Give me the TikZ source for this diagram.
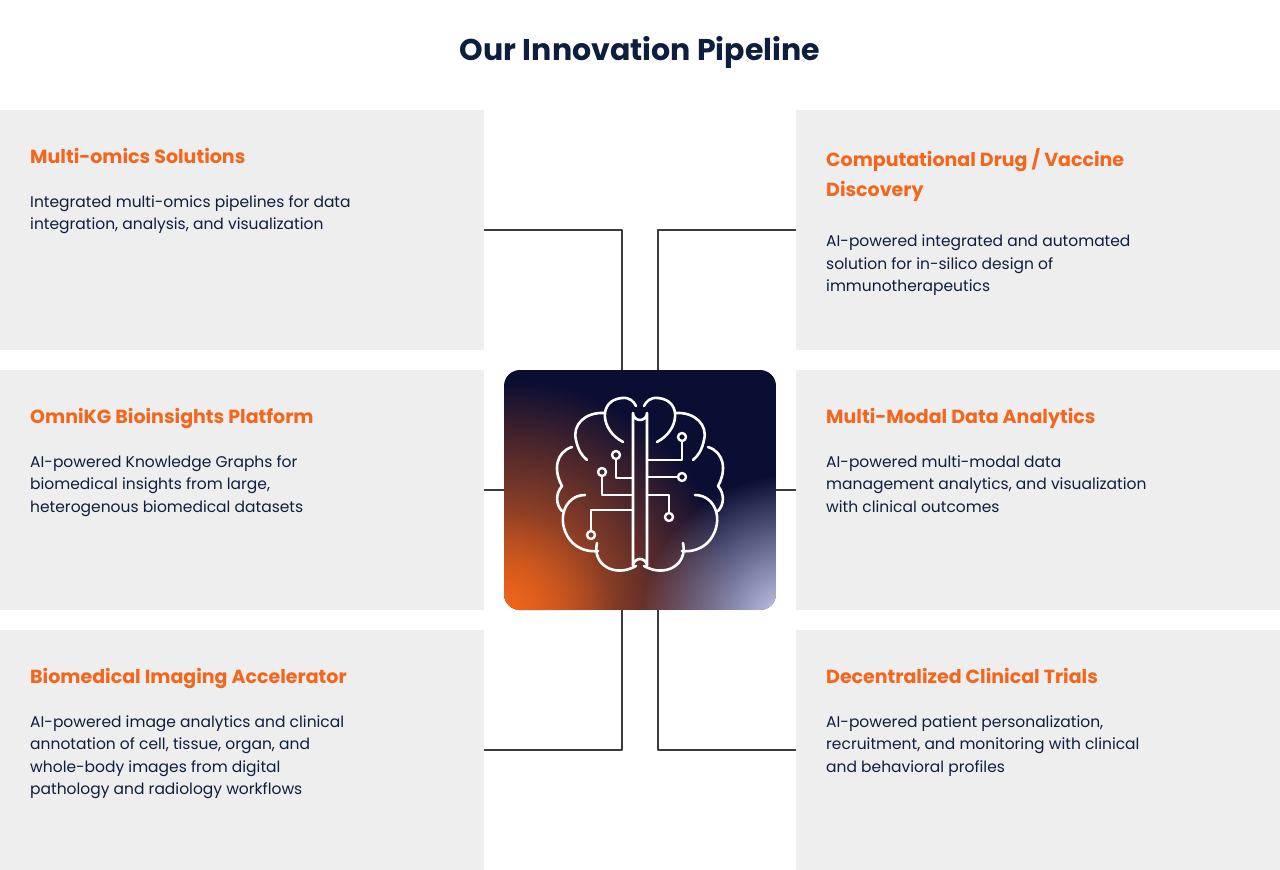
\documentclass[tikz,border=0pt]{standalone}
\usepackage{fontspec}
\setmainfont{Poppins}
\usetikzlibrary{fadings}
\definecolor{navy}{HTML}{0E1E3F}
\definecolor{accent}{HTML}{F4661B}
\definecolor{panel}{HTML}{EEEEEE}
\definecolor{deep}{HTML}{0B0E33}
\definecolor{wire}{HTML}{3A3A3A}
\tikzfading[name=glow, inner color=transparent!0, outer color=transparent!100]

\begin{document}
\begin{tikzpicture}[
    x=1pt, y=-1pt, line join=round,
    panelbox/.style={fill=panel, draw=none},
    heading/.style={anchor=north west, inner sep=0pt, text=accent, align=left,
        font=\fontsize{19}{30}\selectfont\bfseries},
    body/.style={anchor=north west, inner sep=0pt, text=navy, align=left,
        font=\fontsize{15.5}{22.5}\selectfont},
    link/.style={draw=wire, line width=1.4pt},
    brainline/.style={draw=white, line width=2.6pt, line cap=round}
]
    \useasboundingbox (0,0) rectangle (1280,870);
    \fill[white] (0,0) rectangle (1280,870);

    % --- title ---
    \node[text=navy, font=\fontsize{30}{36}\selectfont\bfseries] (Title) at (640,52) {Our Innovation Pipeline};

    % --- panels ---
    \fill[panelbox] (0,110) rectangle (484,350);
    \fill[panelbox] (0,370) rectangle (484,610);
    \fill[panelbox] (0,630) rectangle (484,870);
    \fill[panelbox] (796,110) rectangle (1280,350);
    \fill[panelbox] (796,370) rectangle (1280,610);
    \fill[panelbox] (796,630) rectangle (1280,870);

    % --- left texts ---
    \node[heading] (OmicsHead) at (30,148) {Multi-omics Solutions};
    \node[body] (OmicsBody) at (30,195) {Integrated multi-omics pipelines for data\\integration, analysis, and visualization};
    \node[heading] (KGHead) at (30,408) {OmniKG Bioinsights Platform};
    \node[body] (KGBody) at (30,455) {AI-powered Knowledge Graphs for\\biomedical insights from large,\\heterogenous biomedical datasets};
    \node[heading] (ImgHead) at (30,668) {Biomedical Imaging Accelerator};
    \node[body] (ImgBody) at (30,715) {AI-powered image analytics and clinical\\annotation of cell, tissue, organ, and\\whole-body images from digital\\pathology and radiology workflows};

    % --- right texts ---
    \node[heading] (DrugHead) at (826,148) {Computational Drug / Vaccine\\Discovery};
    \node[body] (DrugBody) at (826,235) {AI-powered integrated and automated\\solution for in-silico design of\\immunotherapeutics};
    \node[heading] (ModalHead) at (826,408) {Multi-Modal Data Analytics};
    \node[body] (ModalBody) at (826,455) {AI-powered multi-modal data\\management analytics, and visualization\\with clinical outcomes};
    \node[heading] (TrialHead) at (826,668) {Decentralized Clinical Trials};
    \node[body] (TrialBody) at (826,715) {AI-powered patient personalization,\\recruitment, and monitoring with clinical\\and behavioral profiles};

    % --- connectors ---
    \coordinate (LA) at (484,230); \coordinate (RA) at (796,230);
    \coordinate (LC) at (484,750); \coordinate (RC) at (796,750);
    \draw[link] (LA) -| (622,370);
    \draw[link] (RA) -| (658,370);
    \draw[link] (484,490) -- (504,490);
    \draw[link] (776,490) -- (796,490);
    \draw[link] (LC) -| (622,610);
    \draw[link] (RC) -| (658,610);

    % --- centre tile ---
    \begin{scope}
        \clip[rounded corners=16pt] (504,370) rectangle (776,610);
        \fill[deep] (504,370) rectangle (776,610);
        \fill[accent, path fading=glow] (504,610) circle (230);
        \fill[white!85!blue, path fading=glow] (790,625) circle (150);
        \fill[accent, path fading=glow, opacity=.6] (504,620) circle (110);
    \end{scope}

    % --- brain icon ---
    \foreach \s in {1,-1}{
    \begin{scope}[xshift=640, xscale=\s, xshift=-640]
        \draw[brainline] (623,442) .. controls (600,430) and (598,400) .. (622,398)
            .. controls (630,397) and (634,402) .. (636,406);
        \draw[brainline] (604,413) .. controls (585,412) and (572,425) .. (576,440)
            .. controls (578,450) and (582,456) .. (587,460);
        \draw[brainline] (572,447) .. controls (556,452) and (553,470) .. (562,486)
            .. controls (555,494) and (556,505) .. (562,511);
        \draw[brainline] (585,495) .. controls (565,495) and (555,520) .. (570,540)
            .. controls (578,550) and (590,552) .. (598,551);
        \draw[brainline] (597,543) .. controls (592,565) and (615,578) .. (636,566);
    \end{scope}}
    % central strip
    \draw[brainline] (633,566) -- (633,413) arc[start angle=180, end angle=0, radius=7]
        -- (647,566) arc[start angle=0, end angle=-180, radius=7];
    % circuit traces
    \draw[brainline] (616,459) -- (616,478) -- (633,478);
    \draw[brainline] (602,476) -- (602,495) -- (633,495);
    \draw[brainline] (591,531) -- (591,510) -- (633,510);
    \draw[brainline] (682,441) -- (682,460) -- (647,460);
    \draw[brainline] (678,477) -- (647,477);
    \draw[brainline] (669,513) -- (669,495) -- (647,495);
    \foreach \p in {(616,455),(602,472),(591,535),(682,437),(682,477),(669,517)}
        \draw[draw=white, line width=2.4pt] \p circle (4);
\end{tikzpicture}
\end{document}
